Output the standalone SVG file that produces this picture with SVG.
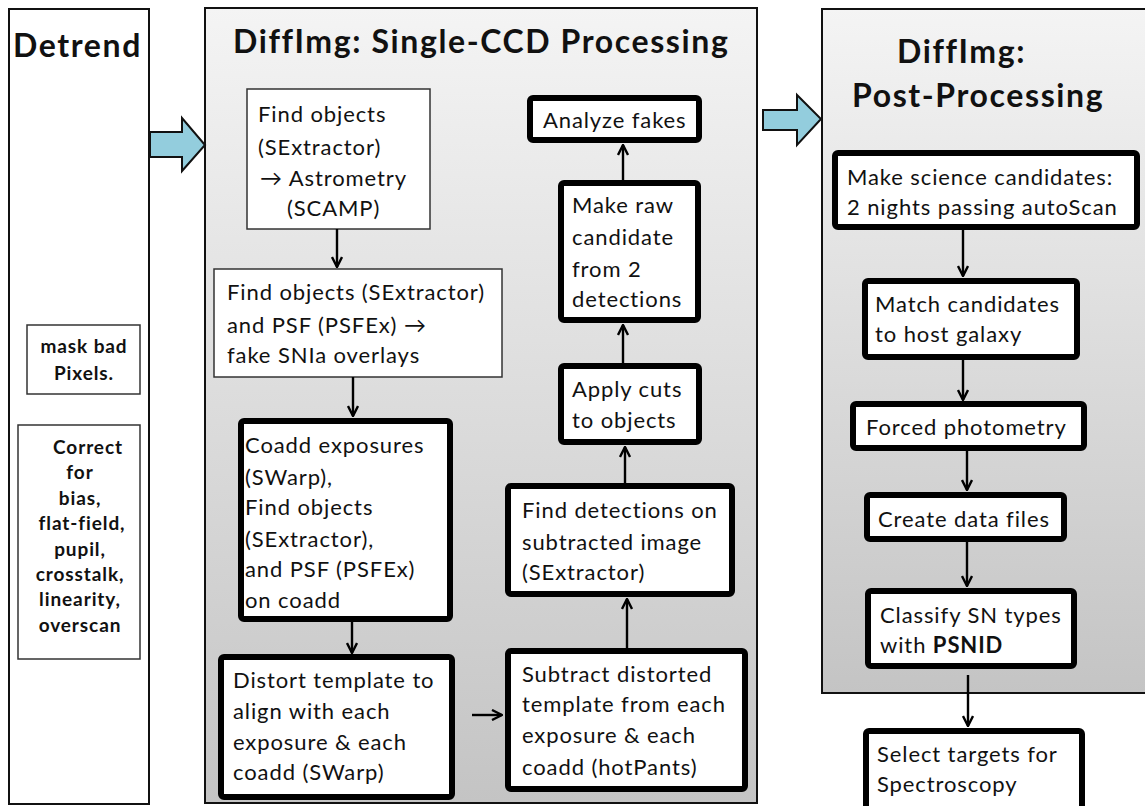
<svg xmlns="http://www.w3.org/2000/svg" width="1145" height="806" viewBox="0 0 1145 806">
<defs>
<linearGradient id="pg" x1="0" y1="0" x2="0" y2="1">
<stop offset="0" stop-color="#f4f4f4"/>
<stop offset="1" stop-color="#c4c4c4"/>
</linearGradient>
<marker id="ah" viewBox="0 0 12 12" refX="11" refY="6" markerWidth="12" markerHeight="12" orient="auto" markerUnits="userSpaceOnUse">
<path d="M1,1 L11,6 L1,11" fill="none" stroke="#000" stroke-width="2.4"/>
</marker>
<style>
.panel{fill:url(#pg);stroke:#111;stroke-width:2}
.plain{fill:#fff;stroke:#111;stroke-width:2}
.thin{fill:#fff;stroke:#333;stroke-width:1.5}
.thick{fill:#fff;stroke:#000;stroke-width:6}
.title{font-family:Lato,"Liberation Sans",sans-serif;font-weight:bold;font-size:32px;letter-spacing:1.6px;fill:#111}
.t{font-family:Lato,"Liberation Sans",sans-serif;font-size:22px;letter-spacing:0.9px;fill:#111}
.tb{font-family:Lato,"Liberation Sans",sans-serif;font-size:19px;font-weight:bold;letter-spacing:0.9px;fill:#111}
.c{stroke:#000;stroke-width:2.4;fill:none;marker-end:url(#ah)}
.bl{fill:#93cddd;stroke:#111;stroke-width:2;stroke-linejoin:miter}
</style>
</defs>
<rect width="1145" height="806" fill="#fff"/>

<g id="detrend">
<rect class="plain" x="9" y="9" width="140" height="795"/>
<text class="title" x="13" y="57">Detrend</text>
</g>
<g id="mask">
<rect class="thin" x="27" y="325" width="113" height="69"/>
<text class="tb" text-anchor="middle"><tspan x="84" y="353">mask bad</tspan><tspan x="84" y="380">Pixels.</tspan></text>
</g>
<g id="correct">
<rect class="thin" x="18" y="425" width="122" height="234"/>
<text class="tb" text-anchor="middle"><tspan x="88" y="454">Correct</tspan><tspan x="80" y="479">for</tspan><tspan x="80" y="505">bias,</tspan><tspan x="82" y="530">flat-field,</tspan><tspan x="80" y="556">pupil,</tspan><tspan x="80" y="581">crosstalk,</tspan><tspan x="80" y="606">linearity,</tspan><tspan x="80" y="632">overscan</tspan></text>
</g>

<g id="single-ccd">
<rect class="panel" x="205" y="8" width="552" height="795"/>
<text class="title" x="233" y="53">DiffImg: Single-CCD Processing</text>
</g>
<g id="post">
<rect class="panel" x="822" y="9" width="330" height="684"/>
<text class="title"><tspan x="897" y="63">DiffImg:</tspan><tspan x="852" y="107">Post-Processing</tspan></text>
</g>

<g id="arrow1"><path class="bl" d="M150,132 L182,132 L182,118 L205,145 L182,171 L182,157 L150,157 Z"/></g>
<g id="arrow2"><path class="bl" d="M763,110 L797,110 L797,95 L821,119 L797,145 L797,130 L763,130 Z"/></g>

<g id="n-find1">
<rect class="thin" x="247" y="89" width="183" height="140"/>
<text class="t"><tspan x="258" y="122">Find objects</tspan><tspan x="258" y="155">(SExtractor)</tspan><tspan x="260" y="186">→ Astrometry</tspan><tspan x="287" y="216">(SCAMP)</tspan></text>
</g>
<g id="n-find2">
<rect class="thin" x="214" y="269" width="288" height="108"/>
<text class="t"><tspan x="227" y="300">Find objects (SExtractor)</tspan><tspan x="227" y="333">and PSF (PSFEx) →</tspan><tspan x="227" y="363">fake SNIa overlays</tspan></text>
</g>
<g id="n-coadd">
<rect class="thick" x="241" y="421" width="209" height="198" rx="3"/>
<text class="t"><tspan x="245" y="453">Coadd exposures</tspan><tspan x="245" y="485">(SWarp),</tspan><tspan x="245" y="515">Find objects</tspan><tspan x="245" y="547">(SExtractor),</tspan><tspan x="245" y="577">and PSF (PSFEx)</tspan><tspan x="245" y="608">on coadd</tspan></text>
</g>
<g id="n-distort">
<rect class="thick" x="221" y="657" width="231" height="140" rx="3"/>
<text class="t"><tspan x="233" y="688">Distort template to</tspan><tspan x="233" y="719">align with each</tspan><tspan x="233" y="750">exposure &amp; each</tspan><tspan x="233" y="780">coadd (SWarp)</tspan></text>
</g>
<g id="n-subtract">
<rect class="thick" x="508" y="651" width="237" height="138" rx="3"/>
<text class="t"><tspan x="522" y="682">Subtract distorted</tspan><tspan x="522" y="712">template from each</tspan><tspan x="522" y="743">exposure &amp; each</tspan><tspan x="522" y="775">coadd (hotPants)</tspan></text>
</g>
<g id="n-detect">
<rect class="thick" x="508" y="486" width="224" height="108" rx="3"/>
<text class="t"><tspan x="522" y="518">Find detections on</tspan><tspan x="522" y="550">subtracted image</tspan><tspan x="522" y="580">(SExtractor)</tspan></text>
</g>
<g id="n-cuts">
<rect class="thick" x="561" y="366" width="138" height="76" rx="3"/>
<text class="t"><tspan x="572" y="397">Apply cuts</tspan><tspan x="572" y="428">to objects</tspan></text>
</g>
<g id="n-raw">
<rect class="thick" x="561" y="183" width="137" height="137" rx="3"/>
<text class="t"><tspan x="572" y="213">Make raw</tspan><tspan x="572" y="245">candidate</tspan><tspan x="572" y="277">from 2</tspan><tspan x="572" y="307">detections</tspan></text>
</g>
<g id="n-fakes">
<rect class="thick" x="530" y="98" width="169" height="42" rx="3"/>
<text class="t" x="543" y="128">Analyze fakes</text>
</g>

<g id="n-science">
<rect class="thick" x="835" y="153" width="302" height="74" rx="3"/>
<text class="t"><tspan x="847" y="185">Make science candidates:</tspan><tspan x="847" y="215">2 nights passing autoScan</tspan></text>
</g>
<g id="n-host">
<rect class="thick" x="865" y="281" width="212" height="76" rx="3"/>
<text class="t"><tspan x="875" y="312">Match candidates</tspan><tspan x="875" y="342">to host galaxy</tspan></text>
</g>
<g id="n-forced">
<rect class="thick" x="853" y="404" width="231" height="44" rx="3"/>
<text class="t" x="866" y="435">Forced photometry</text>
</g>
<g id="n-files">
<rect class="thick" x="867" y="495" width="197" height="44" rx="3"/>
<text class="t" x="878" y="527">Create data files</text>
</g>
<g id="n-classify">
<rect class="thick" x="868" y="591" width="206" height="75" rx="3"/>
<text class="t"><tspan x="880" y="623">Classify SN types</tspan><tspan x="880" y="653">with <tspan font-weight="bold">PSNID</tspan></tspan></text>
</g>
<g id="n-select">
<rect class="thick" x="866" y="731" width="216" height="90" rx="3"/>
<text class="t"><tspan x="877" y="762">Select targets for</tspan><tspan x="877" y="792">Spectroscopy</tspan></text>
</g>

<g id="connectors">
<line class="c" x1="337" y1="229" x2="337" y2="267"/>
<line class="c" x1="353" y1="377" x2="353" y2="416"/>
<line class="c" x1="352" y1="622" x2="352" y2="653"/>
<line class="c" x1="472" y1="715" x2="502" y2="715"/>
<line class="c" x1="627" y1="648" x2="627" y2="599"/>
<line class="c" x1="625" y1="483" x2="625" y2="447"/>
<line class="c" x1="623" y1="363" x2="623" y2="325"/>
<line class="c" x1="623" y1="180" x2="623" y2="145"/>
<line class="c" x1="963" y1="230" x2="963" y2="276"/>
<line class="c" x1="963" y1="360" x2="963" y2="400"/>
<line class="c" x1="967" y1="451" x2="967" y2="490"/>
<line class="c" x1="967" y1="542" x2="967" y2="586"/>
<line class="c" x1="968" y1="675" x2="968" y2="726"/>
</g>
</svg>
